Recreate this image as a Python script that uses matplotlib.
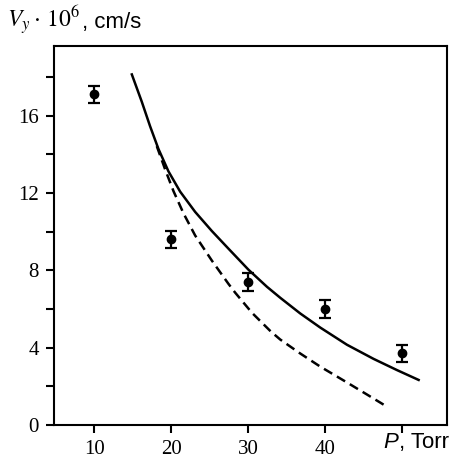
import matplotlib.pyplot as plt

plt.rcParams["mathtext.fontset"] = "stix"

# measured points
p_exp = [10, 20, 30, 40, 50]
v_exp = [17.1, 9.6, 7.4, 6.0, 3.7]
v_err = [0.45, 0.45, 0.45, 0.45, 0.45]

# solid curve
p_solid = [14.9, 16.19, 17.27, 18.35, 19.65, 21.17, 23.12, 25.29, 27.44,
           30.04, 32.43, 34.16, 36.75, 39.35, 42.82, 46.27, 49.31, 52.12]
v_solid = [18.13, 16.72, 15.45, 14.28, 13.12, 12.07, 11.02, 10.03, 9.12,
           8.03, 7.15, 6.58, 5.77, 5.04, 4.15, 3.42, 2.84, 2.33]

# dashed curve
p_dash = [18.14, 19.22, 20.3, 21.6, 23.12, 25.29, 27.44, 28.3, 30.5,
          32.9, 34.16, 36.75, 39.35, 42.82, 45.4, 48.0]
v_dash = [14.42, 13.22, 12.1, 10.95, 9.8, 8.5, 7.3, 6.85, 5.8,
          4.85, 4.42, 3.7, 3.02, 2.2, 1.58, 0.95]

x_ticks = [10, 20, 30, 40, 50]
x_labels = ["10", "20", "30", "40", ""]
y_ticks = [0, 4, 8, 12, 16]
y_minor = [2, 6, 10, 14, 18]

fig = plt.figure(figsize=(4.6, 4.61), dpi=100)
ax = fig.add_axes([0.1174, 0.0781, 0.8543, 0.8221])

ax.plot(p_solid, v_solid, color="black", lw=1.8, solid_joinstyle="round")
ax.plot(p_dash, v_dash, color="black", lw=1.8, dashes=(3.8, 2.2))
ax.errorbar(p_exp, v_exp, yerr=v_err, fmt="o", color="black", ms=6,
            elinewidth=1.6, capsize=4, capthick=1.6)

ax.set_xlim(4.8, 55.8)
ax.set_ylim(0, 19.6)
ax.set_xticks(x_ticks)
ax.set_xticklabels(x_labels)
ax.set_yticks(y_ticks)
ax.set_yticks(y_minor, minor=True)

for lab in ax.get_xticklabels() + ax.get_yticklabels():
    lab.set_family("Liberation Serif")
    lab.set_fontsize(15)

ax.tick_params(which="both", direction="out", length=6, width=1.5, pad=5)
for s in ax.spines.values():
    s.set_linewidth(1.5)

fig.text(0.015, 0.955, r"$V_{y}\cdot\,10^{6}$", fontsize=17,
         va="center", ha="left")
fig.text(0.178, 0.952, ", cm/s", fontsize=16, family="Liberation Sans",
         va="center", ha="left")
fig.text(0.833, 0.04, "P", fontsize=16, family="Liberation Sans",
         style="italic", va="center", ha="left")
fig.text(0.867, 0.04, ", Torr", fontsize=16, family="Liberation Sans",
         va="center", ha="left")

fig.savefig("out.png")
